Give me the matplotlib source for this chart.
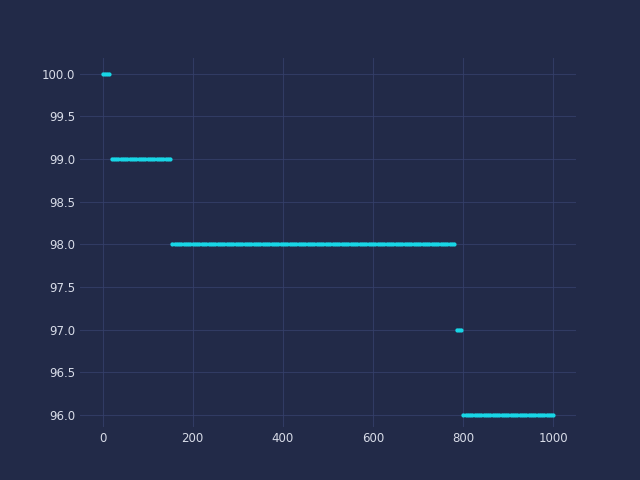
import matplotlib
matplotlib.use("Agg")
import matplotlib.pyplot as plt
import numpy as np

seg_start = [0, 20, 155, 785, 800]
seg_end = [15, 150, 780, 795, 1000]
seg_value = [100.0, 99.0, 98.0, 97.0, 96.0]
step = 5

bg = "#222a48"
fig, ax = plt.subplots(figsize=(6.4, 4.8), dpi=100)
fig.patch.set_facecolor(bg)
ax.set_facecolor(bg)
for s, e, v in zip(seg_start, seg_end, seg_value):
    xs = np.arange(s, e + 0.1, step)
    ax.plot(xs, [v] * len(xs), color="#18d6e6", lw=1.7, marker="o", ms=2)
ax.set_xlim(-50, 1050)
ax.set_ylim(95.857, 100.19)
ax.set_yticks([96.0, 96.5, 97.0, 97.5, 98.0, 98.5, 99.0, 99.5, 100.0])
ax.set_yticklabels([f"{t:.1f}" for t in ax.get_yticks()])
ax.grid(True, color="#36406a", lw=0.8, alpha=0.8)
ax.set_axisbelow(True)
for sp in ax.spines.values():
    sp.set_visible(False)
ax.tick_params(colors="#d8dce8", length=0, labelsize=8.5)
fig.savefig("out.png", dpi=100, facecolor=bg)
